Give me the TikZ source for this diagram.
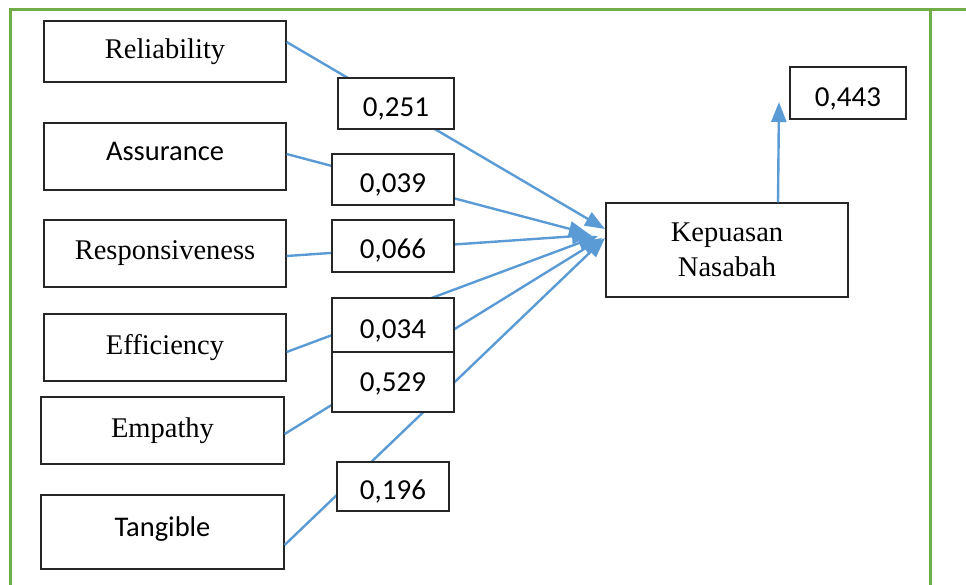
\documentclass[tikz,border=0pt]{standalone}
\usepackage{fontspec}
\setmainfont{Liberation Serif}
\newfontfamily\calibri{Carlito}
\usepackage{tikz}
\usetikzlibrary{arrows.meta}
\definecolor{pathblue}{HTML}{5B9BD5}
\definecolor{framegreen}{HTML}{70AD47}

\begin{document}
\begin{tikzpicture}[x=1pt,y=-1pt,
  var/.style={draw=black!85,line width=1.3pt,fill=white,inner sep=0pt,minimum width=242pt,font=\fontsize{28.5}{35}\selectfont},
  varc/.style={var,text height=18pt,text depth=10pt,font=\calibri\fontsize{28.5}{35}\selectfont},
  coef/.style={draw=black!85,line width=1.3pt,fill=white,inner sep=0pt,text height=26pt,text depth=0pt,font=\calibri\fontsize{29}{35}\selectfont},
  link/.style={pathblue,line width=2.4pt,-{Triangle[length=20pt,width=15pt]}}]
\useasboundingbox (0,0) rectangle (966,585);
\draw[framegreen,line width=3pt] (10,585) -- (10,10) -- (966,10);
\draw[framegreen,line width=3pt] (930,10) -- (930,585);
\node[var,minimum height=61pt] (rel) at (165,51.5) {Reliability};
\node[varc,minimum height=67pt] (asr) at (165,156.5) {Assurance};
\node[var,minimum height=67pt] (resp) at (165,253.5) {Responsiveness};
\node[var,minimum height=67pt] (eff) at (165,347.5) {Efficiency};
\node[var,minimum height=67pt,minimum width=243pt] (emp) at (162.5,430.5) {Empathy};
\node[varc,minimum height=74pt,minimum width=243pt] (tan) at (162.5,532) {Tangible};
\node[var,minimum height=94pt,align=center] (kep) at (727,250) {Kepuasan\\Nasabah};
\coordinate (t1) at (605,229);
\coordinate (t2) at (589,234);
\coordinate (t3) at (592,235);
\coordinate (t4) at (598,236);
\coordinate (t5) at (602,238);
\coordinate (t6) at (605,238);
\coordinate (up) at (779,102);
\draw[link] ([yshift=9.5pt]rel.east) -- (t1);
\draw[link] ([yshift=2.5pt]asr.east) -- (t2);
\draw[link] ([yshift=-2.5pt]resp.east) -- (t3);
\draw[link] ([yshift=-4.5pt]eff.east) -- (t4);
\draw[link] ([yshift=-3.5pt]emp.east) -- (t5);
\draw[link] ([yshift=-13pt]tan.east) -- (t6);
\draw[link] ([xshift=51pt]kep.north) -- (up);
\node[coef,minimum width=116pt,minimum height=51pt] (c251) at (396,103.5) {0,251};
\node[coef,minimum width=122pt,minimum height=51pt] (c039) at (393,179.5) {0,039};
\node[coef,minimum width=122pt,minimum height=52pt] (c066) at (393,246) {0,066};
\node[coef,minimum width=122pt,minimum height=54pt] (c034) at (393,325) {0,034};
\node[coef,minimum width=122pt,minimum height=60pt,text height=18pt] (c529) at (393,382) {0,529};
\node[coef,minimum width=112pt,minimum height=49pt] (c196) at (393,486.5) {0,196};
\node[coef,minimum width=116pt,minimum height=52pt,text height=28pt] (c443) at (848,93) {0,443};
\end{tikzpicture}
\end{document}
